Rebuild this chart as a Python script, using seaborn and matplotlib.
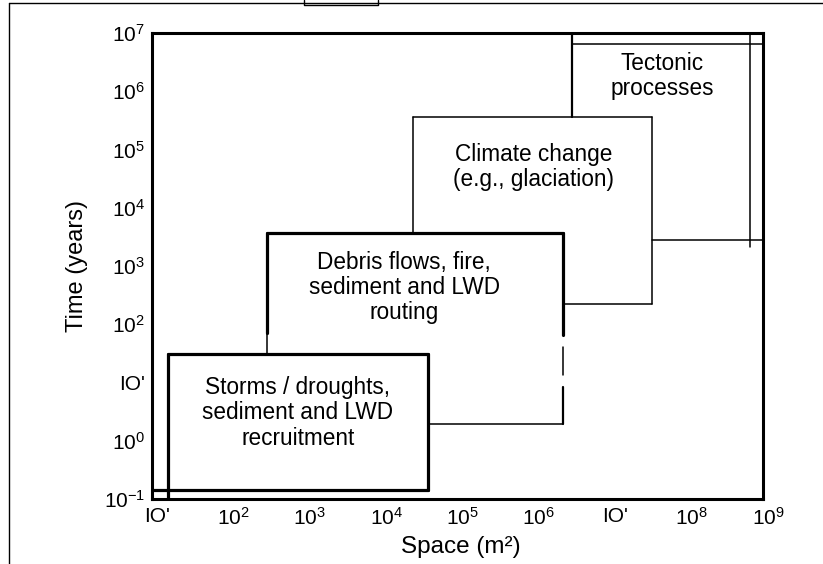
import matplotlib
matplotlib.use('Agg')
import matplotlib.pyplot as plt
import matplotlib.transforms as mtrans
from matplotlib.lines import Line2D
import seaborn as sns

# axis range (log scale)
x_range = [1e1, 1e9]
y_range = [1e-1, 1e7]

x_ticks = [1e1, 1e2, 1e3, 1e4, 1e5, 1e6, 1e7, 1e8, 1e9]
x_ticklabels = ["IO'", r'$\mathregular{10^{2}}$', r'$\mathregular{10^{3}}$', r'$\mathregular{10^{4}}$',
                r'$\mathregular{10^{5}}$', r'$\mathregular{10^{6}}$', "IO'", r'$\mathregular{10^{8}}$',
                r'$\mathregular{10^{9}}$']
y_ticks = [1e-1, 1e0, 1e1, 1e2, 1e3, 1e4, 1e5, 1e6, 1e7]
y_ticklabels = [r'$\mathregular{10^{-1}}$', r'$\mathregular{10^{0}}$', "IO'", r'$\mathregular{10^{2}}$',
                r'$\mathregular{10^{3}}$', r'$\mathregular{10^{4}}$', r'$\mathregular{10^{5}}$',
                r'$\mathregular{10^{6}}$', r'$\mathregular{10^{7}}$']

# process boxes: space extent (m2) and time extent (years)
storms_x = [16, 4.1e4]
storms_y = [0.14, 31]
debris_x = [316, 2.4e6]
debris_y = [1.95, 3700]
debris_break = [70, 65, 41, 13.5, 8.5]   # where the side lines go thin / broken
climate_x = [2.6e4, 3.5e7]
climate_y = [224, 3.6e5]
tectonic_x = [3.2e6, 6.8e8]
tectonic_y = [2800, 6.5e6]
tectonic_inner_bottom = 2100

labels = ['Storms / droughts,\nsediment and LWD\nrecruitment',
          'Debris flows, fire,\nsediment and LWD\nrouting',
          'Climate change\n(e.g., glaciation)',
          'Tectonic\nprocesses']
label_x = [810, 2.0e4, 1.0e6, 4.8e7]
label_y = [3.0, 430, 5.0e4, 1.8e6]

sns.set_style('white')
plt.rcParams['font.family'] = ['Liberation Sans', 'DejaVu Sans']
plt.rcParams['text.color'] = 'black'
plt.rcParams['axes.labelcolor'] = 'black'
plt.rcParams['mathtext.fontset'] = 'custom'
plt.rcParams['mathtext.rm'] = 'Liberation Sans'
plt.rcParams['mathtext.it'] = 'Liberation Sans'
plt.rcParams['mathtext.bf'] = 'Liberation Sans'

fig = plt.figure(figsize=(8.23, 5.64), dpi=100)
ax = fig.add_axes([152/823, 1 - 499/564, 611/823, 466/564])
ax.set_xscale('log')
ax.set_yscale('log')
ax.set_xlim(x_range)
ax.set_ylim(y_range)

thick, mid, thin = 2.3, 1.6, 1.1
k = 'black'

# storms box
ax.plot([storms_x[0], storms_x[0]], [y_range[0], storms_y[1]], color=k, lw=thick)
ax.plot([storms_x[0], storms_x[1]], [storms_y[1], storms_y[1]], color=k, lw=thick)
ax.plot([storms_x[1], storms_x[1]], [storms_y[0], storms_y[1]], color=k, lw=thick)
ax.plot([x_range[0], storms_x[1]], [storms_y[0], storms_y[0]], color=k, lw=thick)

# debris flows box
ax.plot([debris_x[0], debris_x[1]], [debris_y[1], debris_y[1]], color=k, lw=thick)
ax.plot([debris_x[0], debris_x[0]], [debris_break[0], debris_y[1]], color=k, lw=thick)
ax.plot([debris_x[0], debris_x[0]], [storms_y[1], debris_break[0]], color=k, lw=thin)
ax.plot([debris_x[1], debris_x[1]], [debris_break[1], debris_y[1]], color=k, lw=thick)
ax.plot([debris_x[1], debris_x[1]], [debris_break[3], debris_break[2]], color=k, lw=thin)
ax.plot([debris_x[1], debris_x[1]], [debris_y[0], debris_break[4]], color=k, lw=mid)
ax.plot([storms_x[1], debris_x[1]], [debris_y[0], debris_y[0]], color=k, lw=thin)

# climate change box
ax.plot([climate_x[0], climate_x[0]], [debris_y[1], climate_y[1]], color=k, lw=thin)
ax.plot([climate_x[0], climate_x[1]], [climate_y[1], climate_y[1]], color=k, lw=thin)
ax.plot([climate_x[1], climate_x[1]], [climate_y[0], climate_y[1]], color=k, lw=thin)
ax.plot([debris_x[1], climate_x[1]], [climate_y[0], climate_y[0]], color=k, lw=thin)

# tectonic box
ax.plot([tectonic_x[0], tectonic_x[0]], [climate_y[1], y_range[1]], color=k, lw=mid)
ax.plot([tectonic_x[0], x_range[1]], [tectonic_y[1], tectonic_y[1]], color=k, lw=thin)
ax.plot([tectonic_x[1], tectonic_x[1]], [tectonic_inner_bottom, y_range[1]], color=k, lw=thin)
ax.plot([climate_x[1], x_range[1]], [tectonic_y[0], tectonic_y[0]], color=k, lw=thin)

for t, xx, yy in zip(labels, label_x, label_y):
    ax.text(xx, yy, t, ha='center', va='center', fontsize=16.3, linespacing=1.12, color=k)

ax.set_xticks(x_ticks)
ax.set_xticklabels(x_ticklabels)
ax.set_yticks(y_ticks)
ax.set_yticklabels(y_ticklabels)
ax.minorticks_off()
ax.tick_params(axis='both', which='major', direction='in', length=4, width=1.5,
               labelsize=15, colors=k)
ax.tick_params(axis='x', pad=6)
ax.tick_params(axis='y', pad=5)
shift = mtrans.ScaledTranslation(0.05, 0, fig.dpi_scale_trans)
for lab in ax.get_xticklabels():
    lab.set_transform(lab.get_transform() + shift)

for sp in ax.spines.values():
    sp.set_color(k)
    sp.set_linewidth(2.2)

ax.set_xlabel('Space (m²)', fontsize=17.5)
ax.xaxis.set_label_coords(0.506, -0.08)
ax.set_ylabel('Time (years)', fontsize=17)
ax.yaxis.set_label_coords(-0.105, 0.50)

# scan frame around the figure
fig.add_artist(Line2D([9/823, 9/823], [0, 1 - 3/564], color=k, lw=1, transform=fig.transFigure))
fig.add_artist(Line2D([9/823, 1], [1 - 3/564, 1 - 3/564], color=k, lw=1, transform=fig.transFigure))
fig.add_artist(Line2D([304/823, 304/823, 378/823, 378/823], [1, 1 - 5/564, 1 - 5/564, 1],
                      color=k, lw=1, transform=fig.transFigure))

fig.savefig('out.png', dpi=100)
